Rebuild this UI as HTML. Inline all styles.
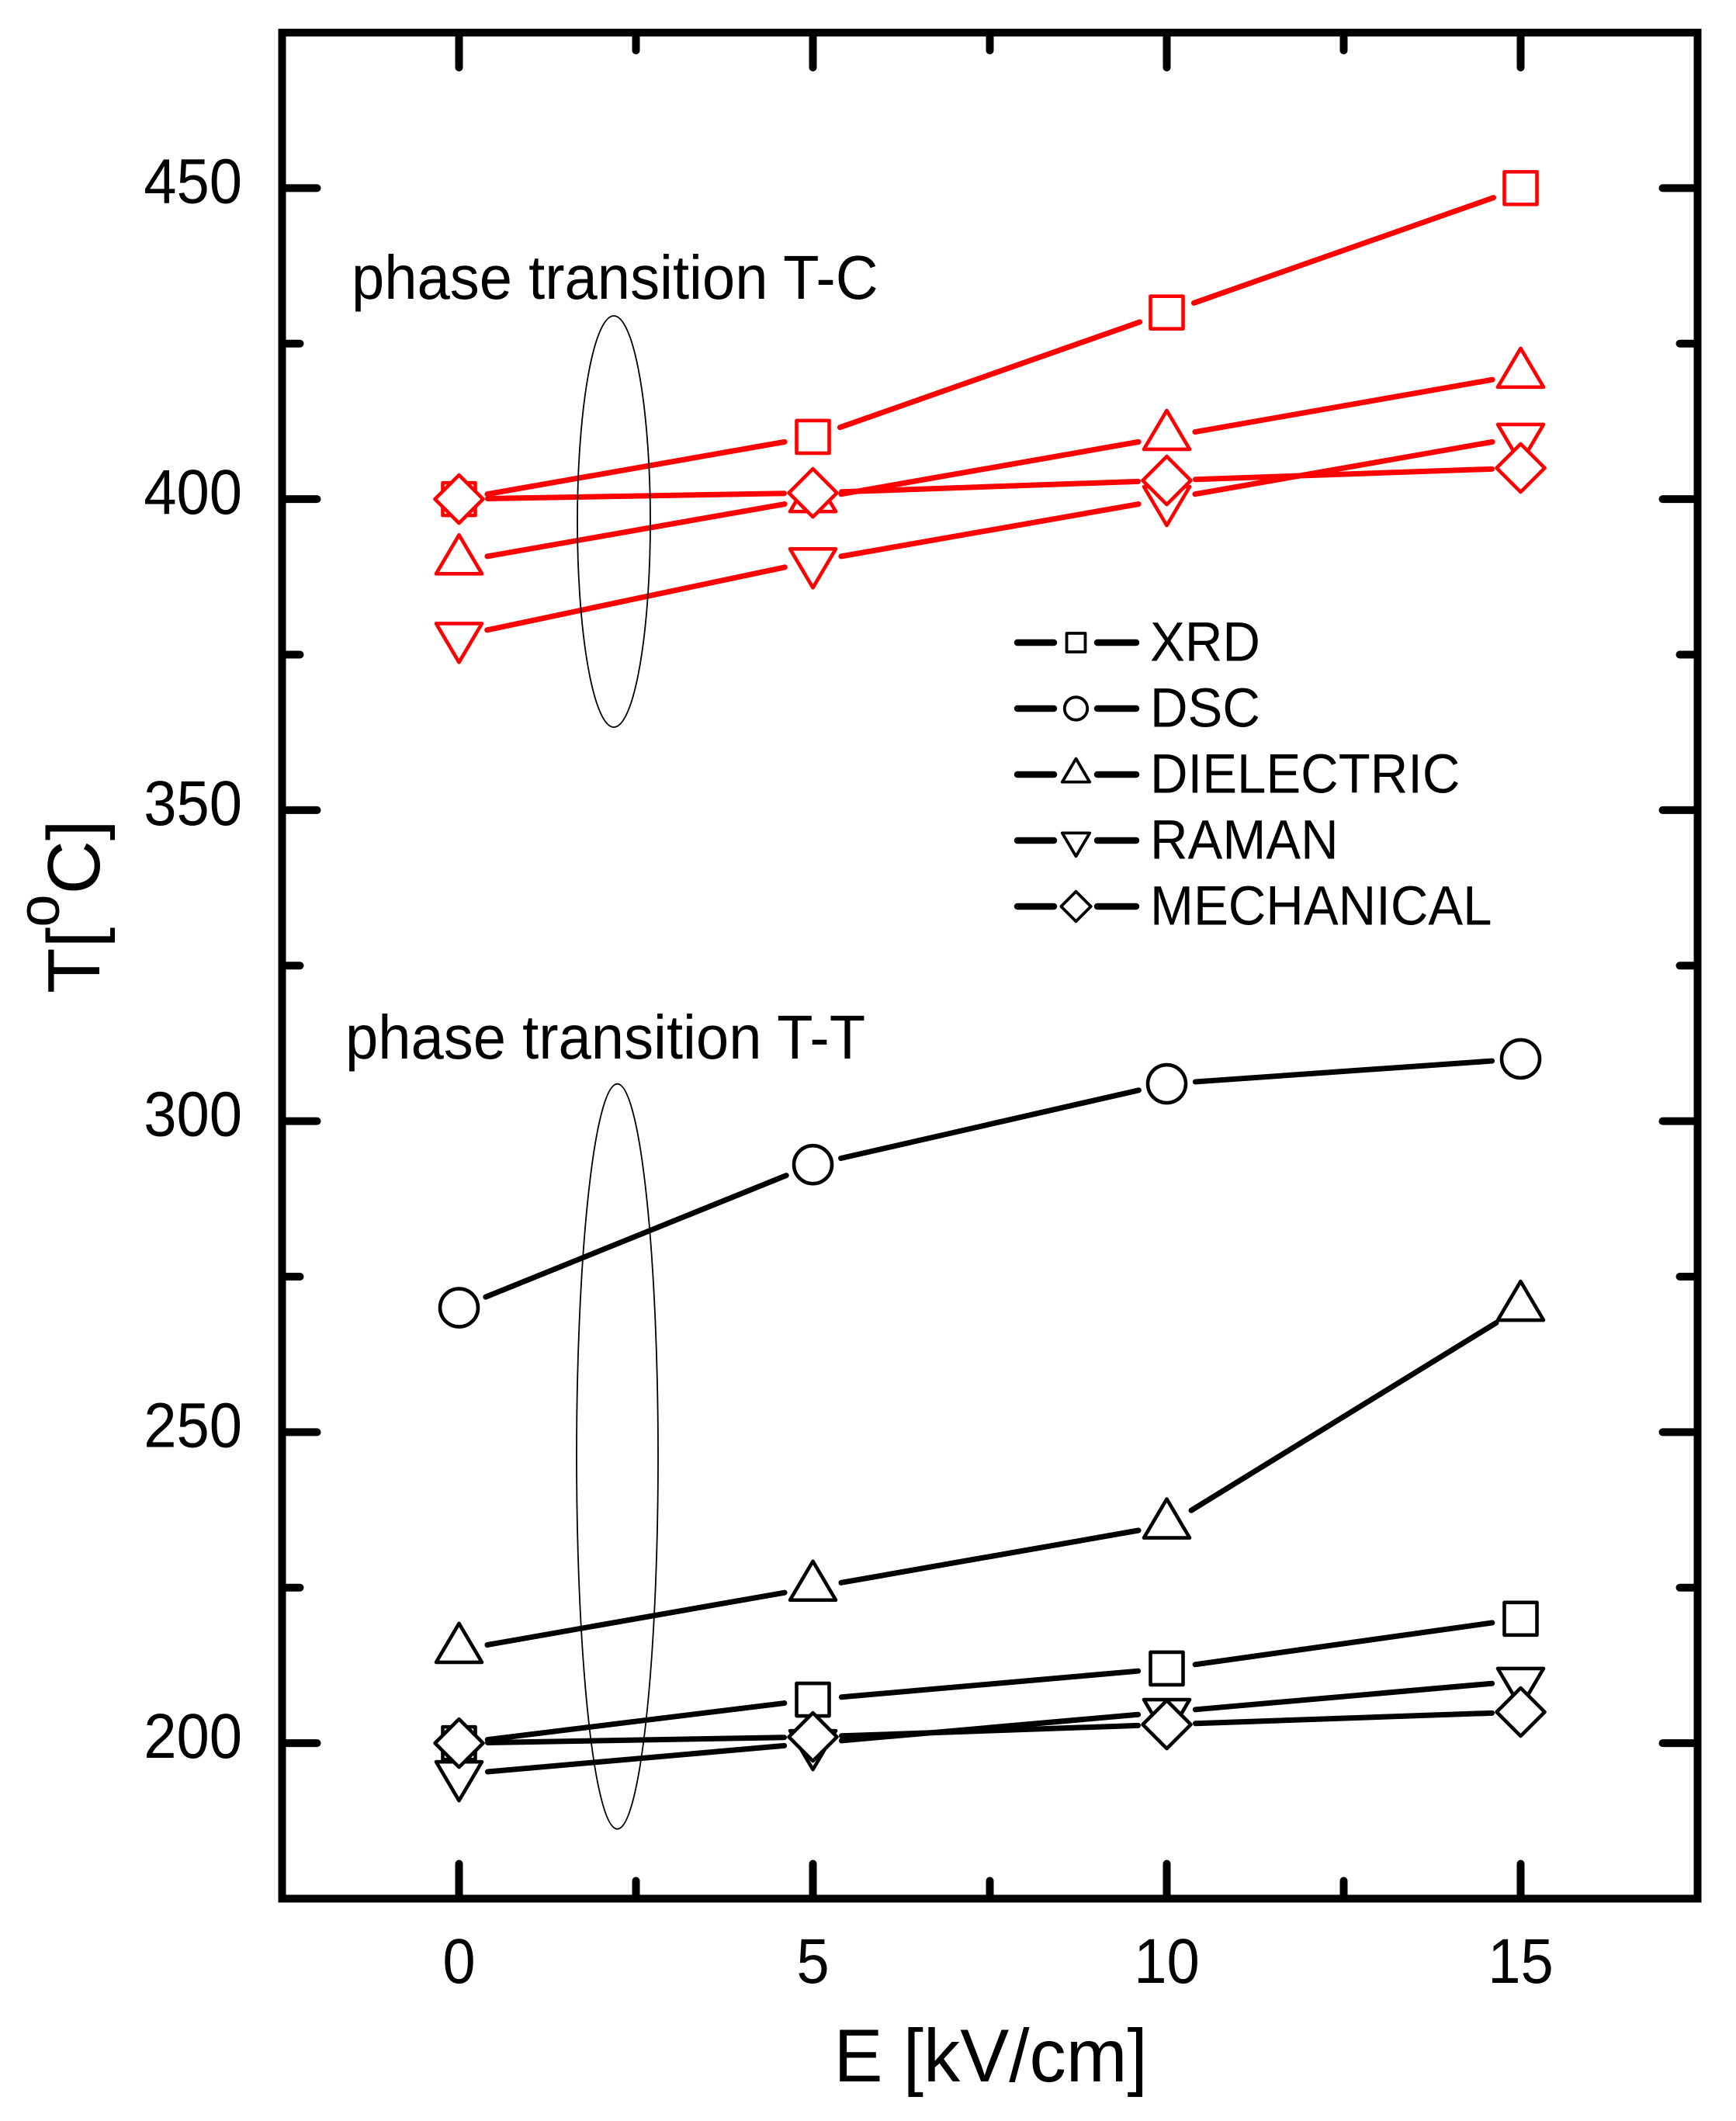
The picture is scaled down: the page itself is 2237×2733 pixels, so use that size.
<!DOCTYPE html>
<html>
<head>
<meta charset="utf-8">
<title>Phase transition temperature vs electric field</title>
<style>
html,body{margin:0;padding:0;background:#fff;}
svg{display:block;}
text{font-family:"Liberation Sans",Arial,sans-serif;fill:#000;}
</style>
</head>
<body>
<svg id="chart" xmlns="http://www.w3.org/2000/svg" width="2237" height="2733" viewBox="0 0 2237 2733">
  <rect x="0" y="0" width="2237" height="2733" fill="#fff"/>
  <g id="ticks"></g>
  <rect x="363.5" y="42" width="1824" height="2404.5" fill="none" stroke="#000" stroke-width="10"/>
  <g id="tick-labels" font-size="76"></g>
  <g id="series"></g>
  <ellipse cx="791" cy="672" rx="47" ry="265" fill="none" stroke="#000" stroke-width="1.8"/>
  <ellipse cx="795.5" cy="1876.7" rx="52.5" ry="480" fill="none" stroke="#000" stroke-width="1.8"/>
  <text transform="translate(453,385) scale(1,1.05)" font-size="76">phase transition T-C</text>
  <text transform="translate(445,1364) scale(1,1.05)" font-size="76">phase transition T-T</text>
  <text transform="translate(1074.5,2682) scale(1,1.02)" font-size="94.5">E [kV/cm]</text>
  <text transform="translate(128,1280) rotate(-90)" x="0" y="0" font-size="96">T[<tspan dy="-52" font-size="76">o</tspan><tspan dy="52">C]</tspan></text>
  <g id="legend">
    <text transform="translate(1482,851.5) scale(1,1.065)" font-size="67.2">XRD</text>
    <text transform="translate(1482,936.5) scale(1,1.065)" font-size="67.2">DSC</text>
    <text transform="translate(1482,1021.5) scale(1,1.065)" font-size="67.2">DIELECTRIC</text>
    <text transform="translate(1482,1106.5) scale(1,1.065)" font-size="67.2">RAMAN</text>
    <text transform="translate(1482,1191.5) scale(1,1.065)" font-size="67.2">MECHANICAL</text>
  </g>
</svg>
<script>
const fieldValues = [0, 5, 10, 15];
const tcXrd = [400, 410, 430, 450];
const tcDielectric = [390, 400, 410, 420];
const tcRaman = [378, 390, 400, 410];
const tcMechanical = [400, 401, 403, 405];
const ttXrd = [200, 207, 212, 220];
const ttDsc = [270, 293, 306, 310];
const ttDielectric = [215, 225, 235, 270];
const ttRaman = [195, 200, 205, 210];
const ttMechanical = [200, 201, 203, 205];
const xMajorTicks = [0, 5, 10, 15];
const xMinorTicks = [2.5, 7.5, 12.5];
const yMajorTicks = [200, 250, 300, 350, 400, 450];
const yMinorTicks = [225, 275, 325, 375, 425];

const NS = 'http://www.w3.org/2000/svg';
const xDomain = [-2.5, 17.5];
const yDomain = [175, 475];
const plot = { left: 363.5, right: 2187.5, top: 42, bottom: 2446.5 };
function xScale(v) { return plot.left + (v - xDomain[0]) / (xDomain[1] - xDomain[0]) * (plot.right - plot.left); }
function yScale(v) { return plot.bottom - (v - yDomain[0]) / (yDomain[1] - yDomain[0]) * (plot.bottom - plot.top); }

function mk(tag, attrs, parent) {
  const el = document.createElementNS(NS, tag);
  for (const k in attrs) el.setAttribute(k, attrs[k]);
  parent.appendChild(el);
  return el;
}

const ticksG = document.getElementById('ticks');
const labelsG = document.getElementById('tick-labels');
const seriesG = document.getElementById('series');
const legendG = document.getElementById('legend');

function tickStroke() {
  return { stroke: '#000', 'stroke-width': 10, 'stroke-linecap': 'round' };
}

function drawXTick(v, len) {
  const x = xScale(v);
  const bottomTick = mk('line', Object.assign({ x1: x, x2: x, y1: plot.bottom, y2: plot.bottom - len + 5 }, tickStroke()), ticksG);
  
  
  const topTick = mk('line', Object.assign({ x1: x, x2: x, y1: plot.top, y2: plot.top + len - 5 }, tickStroke()), ticksG);
  
  
}

function drawYTick(v, len) {
  const y = yScale(v);
  const leftTick = mk('line', Object.assign({ x1: plot.left, x2: plot.left + len - 5, y1: y, y2: y }, tickStroke()), ticksG);
  
  
  const rightTick = mk('line', Object.assign({ x1: plot.right, x2: plot.right - len + 5, y1: y, y2: y }, tickStroke()), ticksG);
  
  
}

xMajorTicks.forEach(function (v) { drawXTick(v, 50); });
xMinorTicks.forEach(function (v) { drawXTick(v, 28); });
yMajorTicks.forEach(function (v) { drawYTick(v, 50); });
yMinorTicks.forEach(function (v) { drawYTick(v, 28); });

xMajorTicks.forEach(function (v) {
  const t = mk('text', { transform: 'translate(' + xScale(v) + ',2555) scale(1,1.07)', 'text-anchor': 'middle' }, labelsG);
  t.textContent = String(v);
  
  
});
yMajorTicks.forEach(function (v) {
  const t = mk('text', { transform: 'translate(312,' + (yScale(v) + 19) + ') scale(1,1.07)', 'text-anchor': 'end' }, labelsG);
  t.textContent = String(v);
  
  
});

function drawMarker(kind, cx, cy, color, k, parent) {
  const style = { fill: '#fff', stroke: color, 'stroke-width': k < 1 ? 3.8 : 4.6, 'stroke-linejoin': 'round' };
  let el;
  if (kind === 'square') {
    el = mk('rect', Object.assign({ x: cx - 21 * k, y: cy - 21 * k, width: 42 * k, height: 42 * k }, style), parent);
  } else if (kind === 'circle') {
    el = mk('circle', Object.assign({ cx: cx, cy: cy, r: 24.5 * k }, style), parent);
  } else {
    let rel;
    if (kind === 'up') rel = [[0, -34], [29.5, 16], [-29.5, 16]];
    else if (kind === 'down') rel = [[0, 34], [29.5, -16], [-29.5, -16]];
    else rel = [[0, -31], [31, 0], [0, 31], [-31, 0]];
    const pts = rel.map(function (p) { return (cx + p[0] * k) + ',' + (cy + p[1] * k); }).join(' ');
    el = mk('polygon', Object.assign({ points: pts }, style), parent);
  }
  return el;
}

function drawSeries(name, values, kind, color) {
  const g = mk('g', {}, seriesG);
  
  
  const trim = 37;
  for (let i = 0; i < values.length - 1; i++) {
    const x1 = xScale(fieldValues[i]), y1 = yScale(values[i]);
    const x2 = xScale(fieldValues[i + 1]), y2 = yScale(values[i + 1]);
    const d = Math.hypot(x2 - x1, y2 - y1);
    const ux = (x2 - x1) / d, uy = (y2 - y1) / d;
    const seg = mk('line', {
      x1: x1 + ux * trim, y1: y1 + uy * trim, x2: x2 - ux * trim, y2: y2 - uy * trim,
      stroke: color, 'stroke-width': 7, 'stroke-linecap': 'round'
    }, g);
    
    
  }
  values.forEach(function (v, i) {
    const m = drawMarker(kind, xScale(fieldValues[i]), yScale(v), color, 1, g);
    
    
  });
}

drawSeries('tc-xrd', tcXrd, 'square', '#ff0000');
drawSeries('tc-dielectric', tcDielectric, 'up', '#ff0000');
drawSeries('tc-raman', tcRaman, 'down', '#ff0000');
drawSeries('tc-mechanical', tcMechanical, 'diamond', '#ff0000');
drawSeries('tt-dsc', ttDsc, 'circle', '#000000');
drawSeries('tt-dielectric', ttDielectric, 'up', '#000000');
drawSeries('tt-xrd', ttXrd, 'square', '#000000');
drawSeries('tt-raman', ttRaman, 'down', '#000000');
drawSeries('tt-mechanical', ttMechanical, 'diamond', '#000000');

function drawLegendRow(name, kind, y, k) {
  const left = mk('line', { x1: 1311, x2: 1358, y1: y, y2: y, stroke: '#000', 'stroke-width': 8.5, 'stroke-linecap': 'round' }, legendG);
  
  
  const right = mk('line', { x1: 1414, x2: 1464, y1: y, y2: y, stroke: '#000', 'stroke-width': 8.5, 'stroke-linecap': 'round' }, legendG);
  
  
  const m = drawMarker(kind, 1386.5, y, '#000', k, legendG);
  
  
}
drawLegendRow('xrd', 'square', 828, 0.57);
drawLegendRow('dsc', 'circle', 913, 0.6);
drawLegendRow('dielectric', 'up', 998, 0.6);
drawLegendRow('raman', 'down', 1083, 0.6);
drawLegendRow('mechanical', 'diamond', 1168, 0.62);
</script>
</body>
</html>
